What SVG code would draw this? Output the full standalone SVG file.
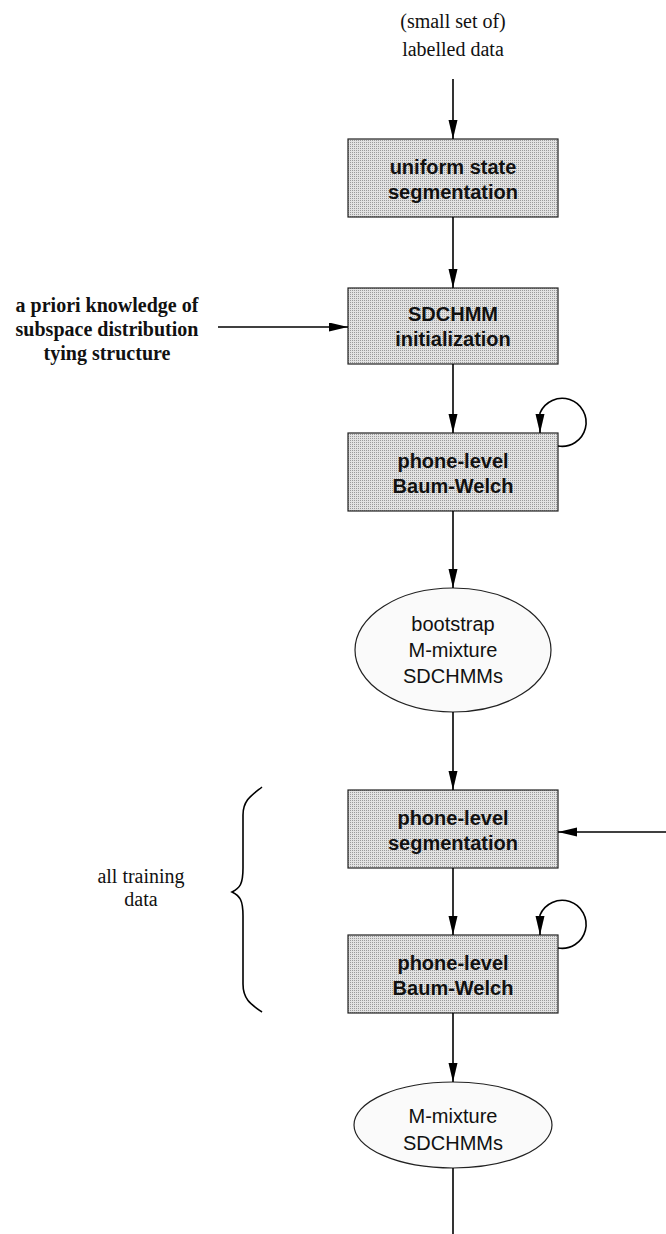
<svg xmlns="http://www.w3.org/2000/svg" width="666" height="1234" viewBox="0 0 666 1234">
<style>
.box{fill:url(#dots);stroke:#222;stroke-width:1.2}
.ell{fill:#fafafa;stroke:#222;stroke-width:1.2}
.bt{font-family:"Liberation Sans",Arial,sans-serif;font-weight:bold;font-size:20px;text-anchor:middle;fill:#111}
.et{font-family:"Liberation Sans",Arial,sans-serif;font-size:20px;text-anchor:middle;fill:#111}
.st{font-family:"Liberation Serif","Times New Roman",serif;font-size:20px;text-anchor:middle;fill:#111}
.sb{font-family:"Liberation Serif","Times New Roman",serif;font-weight:bold;font-size:20px;text-anchor:middle;fill:#111}
.ln{fill:none;stroke:#000;stroke-width:1.6}
.ar{marker-end:url(#ah)}
</style>
<defs>
<pattern id="dots" width="2" height="2" patternUnits="userSpaceOnUse">
<rect width="2" height="2" fill="#e2e2e2"/>
<rect width="1" height="1" fill="#9a9a9a"/>
</pattern>
<marker id="ah" markerUnits="userSpaceOnUse" markerWidth="20" markerHeight="10" refX="19" refY="4.5" orient="auto">
<path d="M0,0 L19,4.5 L0,9 z" fill="#000"/>
</marker>
</defs>
<g id="input-label">
<text class="st" x="453" y="28">(small set of)</text>
<text class="st" x="453" y="56">labelled data</text>
</g>
<g id="prior-label">
<text class="sb" x="107" y="312">a priori knowledge of</text>
<text class="sb" x="107" y="336">subspace distribution</text>
<text class="sb" x="107" y="360">tying structure</text>
</g>
<g id="training-label">
<text class="st" x="141" y="883">all training</text>
<text class="st" x="141" y="906">data</text>
<path class="ln" d="M262,787 C252,795 243,800 243,815 L243,868 C243,884 240,888 232,892 C240,896 243,900 243,916 L243,984 C243,1000 252,1005 262,1012"/>
</g>
<g id="uniform-seg">
<rect class="box" x="348" y="139" width="210" height="78"/>
<text class="bt" x="453" y="174">uniform state</text>
<text class="bt" x="453" y="199">segmentation</text>
</g>
<g id="sdchmm-init">
<rect class="box" x="348" y="288" width="210" height="76"/>
<text class="bt" x="453" y="321">SDCHMM</text>
<text class="bt" x="453" y="346">initialization</text>
</g>
<g id="bw1">
<rect class="box" x="348" y="433" width="210" height="78"/>
<text class="bt" x="453" y="468">phone-level</text>
<text class="bt" x="453" y="493">Baum-Welch</text>
</g>
<g id="bootstrap">
<ellipse class="ell" cx="453" cy="650" rx="98" ry="62"/>
<text class="et" x="453" y="631">bootstrap</text>
<text class="et" x="453" y="657">M-mixture</text>
<text class="et" x="453" y="683">SDCHMMs</text>
</g>
<g id="phone-seg">
<rect class="box" x="348" y="790" width="210" height="78"/>
<text class="bt" x="453" y="825">phone-level</text>
<text class="bt" x="453" y="850">segmentation</text>
</g>
<g id="bw2">
<rect class="box" x="348" y="935" width="210" height="78"/>
<text class="bt" x="453" y="970">phone-level</text>
<text class="bt" x="453" y="995">Baum-Welch</text>
</g>
<g id="final">
<ellipse class="ell" cx="453" cy="1125" rx="99" ry="43"/>
<text class="et" x="453" y="1123">M-mixture</text>
<text class="et" x="453" y="1150">SDCHMMs</text>
</g>
<g id="connectors">
<path class="ln ar" d="M453,79 L453,139"/>
<path class="ln ar" d="M453,217 L453,288"/>
<path class="ln ar" d="M218,327 L348,327"/>
<path class="ln ar" d="M453,364 L453,433"/>
<path class="ln ar" d="M558,446 A24,24 0 1 0 540,413 L540,433"/>
<path class="ln ar" d="M453,511 L453,588"/>
<path class="ln ar" d="M453,712 L453,790"/>
<path class="ln ar" d="M666,832 L558,832"/>
<path class="ln ar" d="M453,868 L453,935"/>
<path class="ln ar" d="M558,948 A24,24 0 1 0 540,915 L540,935"/>
<path class="ln ar" d="M453,1013 L453,1082"/>
<path class="ln" d="M453,1168 L453,1234"/>
</g>
</svg>
